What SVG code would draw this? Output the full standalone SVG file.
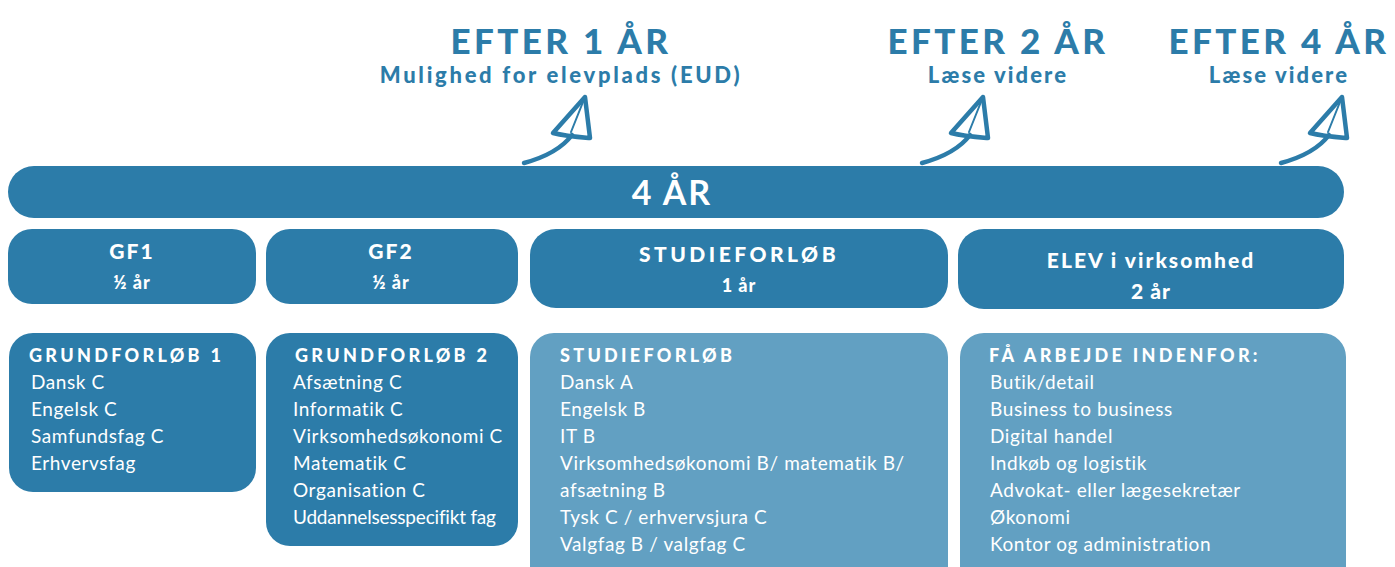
<svg xmlns="http://www.w3.org/2000/svg" width="1395" height="567" viewBox="0 0 1395 567">
<defs>
<style>
.dark{fill:#2c7ca9}
.light{fill:#62a0c2}
.title{font-family:Lato,sans-serif;font-weight:900;font-size:35px;fill:#2c7ca9;letter-spacing:3.4px;text-anchor:middle}
.sub{font-family:Lato,sans-serif;font-weight:900;font-size:22px;fill:#2c7ca9;letter-spacing:2.1px;text-anchor:middle}
.big{font-family:Lato,sans-serif;font-weight:700;font-size:34px;fill:#fff;letter-spacing:2px;text-anchor:middle}
.hd{font-family:Lato,sans-serif;font-weight:900;font-size:21px;fill:#fff;letter-spacing:2px;text-anchor:middle}
.hd2{font-family:Lato,sans-serif;font-weight:900;font-size:18px;fill:#fff;letter-spacing:1px;text-anchor:middle}
.bh{font-family:Lato,sans-serif;font-weight:900;font-size:18px;fill:#fff;letter-spacing:3.3px}
.it{font-family:Lato,sans-serif;font-weight:400;font-size:19px;fill:#fff;letter-spacing:0.6px}
.arr{fill:none;stroke:#2c7ca9;stroke-width:4.5;stroke-linecap:round;stroke-linejoin:round}
</style>
<g id="arrowshape">
<path class="arr" d="M524,163 C546,157 563,147 572,135"/>
<path class="arr" d="M585,97 L553,133 C565,136 578,137 590,138 Z"/>
<path class="arr" d="M585,97 L571,132" style="stroke-width:2"/>
</g>
</defs>

<g id="label-efter1">
<text class="title" x="561" y="54">EFTER 1 ÅR</text>
<text class="sub" x="561" y="83" style="letter-spacing:2.7px">Mulighed for elevplads (EUD)</text>
</g>
<g id="label-efter2">
<text class="title" x="998" y="54">EFTER 2 ÅR</text>
<text class="sub" x="998" y="83">Læse videre</text>
</g>
<g id="label-efter4">
<text class="title" x="1279" y="54">EFTER 4 ÅR</text>
<text class="sub" x="1279" y="83">Læse videre</text>
</g>

<g id="connectors">
<use href="#arrowshape"/>
<use href="#arrowshape" transform="translate(398,0)"/>
<use href="#arrowshape" transform="translate(757,0)"/>
</g>

<g id="bar-4aar">
<rect class="dark" x="8" y="166" width="1336" height="52" rx="26"/>
<text class="big" x="672" y="205">4 ÅR</text>
</g>

<g id="gf1">
<rect class="dark" x="8" y="229" width="248" height="75" rx="24"/>
<text class="hd" x="132" y="259">GF1</text>
<text class="hd2" x="132" y="289">½ år</text>
</g>
<g id="gf2">
<rect class="dark" x="266" y="229" width="252" height="75" rx="24"/>
<text class="hd" x="391" y="259">GF2</text>
<text class="hd2" x="391" y="289">½ år</text>
</g>
<g id="studieforloeb">
<rect class="dark" x="530" y="229" width="418" height="79" rx="26"/>
<text class="hd" x="739" y="262" style="letter-spacing:3.5px">STUDIEFORLØB</text>
<text class="hd2" x="739" y="292">1 år</text>
</g>
<g id="elev">
<rect class="dark" x="958" y="229" width="386" height="80" rx="26"/>
<text class="hd" x="1151" y="268">ELEV i virksomhed</text>
<text class="hd2" x="1151" y="299" style="font-size:21px">2 år</text>
</g>

<g id="grundforloeb1">
<rect class="dark" x="9" y="333" width="247" height="159" rx="24"/>
<text class="bh" x="29" y="362">GRUNDFORLØB 1</text>
<text class="it" x="31" y="389">Dansk C</text>
<text class="it" x="31" y="416">Engelsk C</text>
<text class="it" x="31" y="443">Samfundsfag C</text>
<text class="it" x="31" y="470">Erhvervsfag</text>
</g>
<g id="grundforloeb2">
<rect class="dark" x="266" y="333" width="252" height="213" rx="24"/>
<text class="bh" x="295" y="362">GRUNDFORLØB 2</text>
<text class="it" x="293" y="389">Afsætning C</text>
<text class="it" x="293" y="416">Informatik C</text>
<text class="it" x="293" y="443">Virksomhedsøkonomi C</text>
<text class="it" x="293" y="470">Matematik C</text>
<text class="it" x="293" y="497">Organisation C</text>
<text class="it" x="293" y="524" style="letter-spacing:-0.2px">Uddannelsesspecifikt fag</text>
</g>
<g id="studieforloeb-fag">
<rect class="light" x="530" y="333" width="418" height="260" rx="24"/>
<text class="bh" x="560" y="362">STUDIEFORLØB</text>
<text class="it" x="560" y="389">Dansk A</text>
<text class="it" x="560" y="416">Engelsk B</text>
<text class="it" x="560" y="443">IT B</text>
<text class="it" x="560" y="470">Virksomhedsøkonomi B/ matematik B/</text>
<text class="it" x="560" y="497">afsætning B</text>
<text class="it" x="560" y="524">Tysk C / erhvervsjura C</text>
<text class="it" x="560" y="551">Valgfag B / valgfag C</text>
</g>
<g id="arbejde">
<rect class="light" x="960" y="333" width="386" height="260" rx="24"/>
<text class="bh" x="989" y="362">FÅ ARBEJDE INDENFOR:</text>
<text class="it" x="990" y="389">Butik/detail</text>
<text class="it" x="990" y="416">Business to business</text>
<text class="it" x="990" y="443">Digital handel</text>
<text class="it" x="990" y="470">Indkøb og logistik</text>
<text class="it" x="990" y="497">Advokat- eller lægesekretær</text>
<text class="it" x="990" y="524">Økonomi</text>
<text class="it" x="990" y="551">Kontor og administration</text>
</g>
</svg>
